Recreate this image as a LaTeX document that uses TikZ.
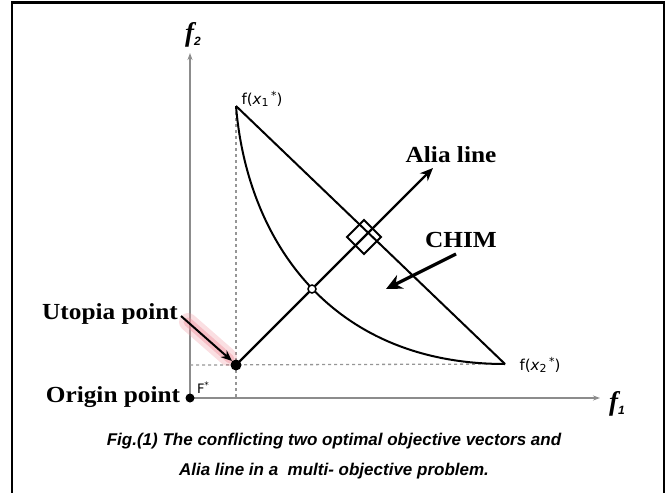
\documentclass[tikz,border=0pt]{standalone}
\usepackage{fontspec}
\setmainfont{Liberation Serif}
\newfontfamily\capfont{Liberation Sans}
\newfontfamily\lblfont{DejaVu Sans}
\usetikzlibrary{arrows.meta}
\definecolor{axisgray}{RGB}{140,140,140}
\definecolor{guidegray}{RGB}{150,150,150}
\definecolor{glow}{RGB}{240,150,160}
\begin{document}
\begin{tikzpicture}[x=1pt,y=-1pt,
  axis/.style={draw=axisgray, line width=1.8pt, -{Stealth[length=7pt,width=5pt]}},
  guide/.style={draw=guidegray, line width=1.3pt, dash pattern=on 3pt off 3pt},
  mainline/.style={draw=black, line width=2pt},
  bigtext/.style={font=\fontsize{23}{26}\selectfont\bfseries, inner sep=0pt, anchor=base},
  ptlabel/.style={font=\lblfont\fontsize{15}{17}\selectfont, inner sep=0pt, anchor=base},
  dot/.style={circle, fill=black, inner sep=0pt, minimum size=#1},
  captxt/.style={font=\capfont\fontsize{17}{20}\selectfont\bfseries\itshape, inner sep=0pt, anchor=base},
  axlabel/.style={font=\fontsize{27}{29}\selectfont\bfseries\itshape, inner sep=0pt, anchor=base}
]
\useasboundingbox (0,0) rectangle (668,492);
% frame
\draw[line width=2.5pt] (12,493) -- (12,2.5) -- (664,2.5) -- (664,493);

% coordinates
\coordinate (O) at (190,398);
\coordinate (Ytip) at (190,53);
\coordinate (Xtip) at (600,398);
\coordinate (A) at (236,106);
\coordinate (B) at (505,364);
\coordinate (U) at (236,365);
\coordinate (Ax) at (236,398);
\coordinate (By) at (190,365);
\coordinate (T) at (433,168);
\coordinate (Cs) at (456,254);
\coordinate (Ct) at (386,289);
\coordinate (Us) at (181,316);
\coordinate (Ut) at (232,361);

% axes
\draw[axis] (O) -- (Ytip);
\draw[axis] (O) -- (Xtip);
\node[axlabel] (f2) at (193,42) {f\raisebox{-4pt}{\capfont\bfseries\fontsize{12}{12}\selectfont 2}};
\node[axlabel] (f1) at (617,410) {f\raisebox{-4pt}{\capfont\bfseries\fontsize{12}{12}\selectfont 1}};

% guides
\draw[guide] (A) -- (Ax);
\draw[guide] (By) -- (B);

% curve and straight line
\draw[mainline] (A) .. controls (247,240) and (330,364) .. (B);
\draw[mainline] (A) -- (B);

% alia line
\draw[line width=2.3pt, -{Stealth[length=13pt,width=11pt]}] (U) -- (T);
\node[circle, draw, line width=1.5pt, fill=white, minimum size=8pt, inner sep=0pt] (cross) at (312,289) {};
\draw[line width=2pt] (364,220) -- (381,237) -- (364,254) -- (347,237) -- cycle;

% CHIM arrow
\draw[line width=3.2pt, -{Stealth[length=16pt,width=15pt]}] (Cs) -- (Ct);

% utopia arrow with glow
\draw[glow, opacity=0.3, line width=18pt, line cap=round] (188,322) -- (228,357);
\draw[glow, opacity=0.45, line width=9pt, line cap=round] (188,322) -- (230,359);
\draw[line width=2pt, -{Stealth[length=11pt,width=9pt]}] (Us) -- (Ut);

% dots
\node[dot=11pt] (Udot) at (U) {};
\node[dot=9pt] (Odot) at (O) {};

% labels
\node[bigtext] (utopia) at (110,319) {\scalebox{1.1}[1]{Utopia point}};
\node[bigtext] (origin) at (113,402) {\scalebox{1.1}[1]{Origin point}};
\node[bigtext] (alia) at (451,162) {\scalebox{1.1}[1]{Alia line}};
\node[bigtext] (chim) at (461,247) {\scalebox{1.1}[1]{CHIM}};
\node[ptlabel, font=\lblfont\fontsize{13}{14}\selectfont] (fstar) at (203,393) {F\raisebox{5pt}{\fontsize{9}{9}\selectfont *}};
\node[ptlabel] (fx1) at (262,104) {f(\textit{x}\raisebox{-2pt}{\fontsize{11}{11}\selectfont 1}\,\raisebox{5pt}{\fontsize{11}{11}\selectfont *})};
\node[ptlabel] (fx2) at (540,370) {f(\textit{x}\raisebox{-2pt}{\fontsize{11}{11}\selectfont 2}\,\raisebox{5pt}{\fontsize{11}{11}\selectfont *})};

% caption
\node[captxt] (cap1) at (334,445) {Fig.(1) The conflicting two optimal objective vectors and};
\node[captxt] (cap2) at (334,475) {Alia line in a\ \ multi- objective problem.};
\end{tikzpicture}
\end{document}
